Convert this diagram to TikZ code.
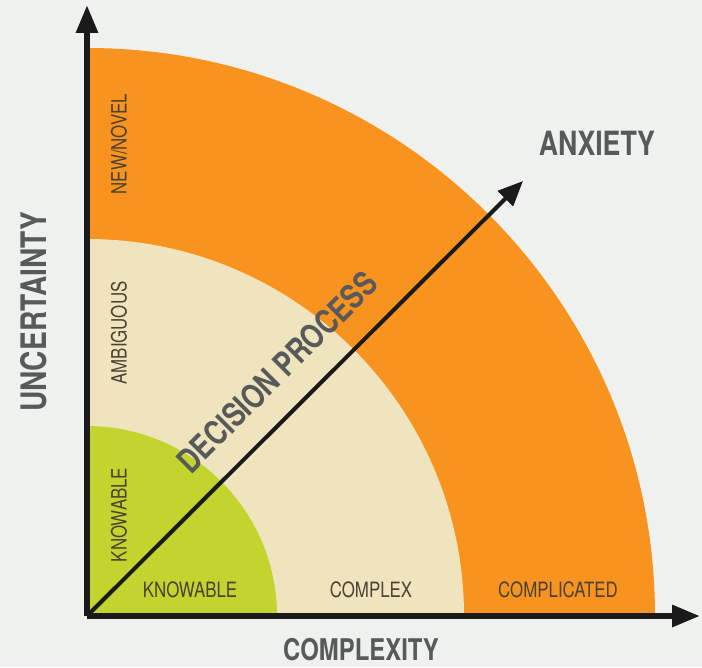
\documentclass[tikz,border=0pt]{standalone}
\usepackage{fontspec}
\setmainfont{TeX Gyre Heros}[FakeStretch=0.8]
\usetikzlibrary{arrows.meta}
\definecolor{bgcol}{HTML}{EFF1EE}
\definecolor{orangecol}{HTML}{F7931E}
\definecolor{beigecol}{HTML}{EFE4BD}
\definecolor{greencol}{HTML}{C2D52F}
\definecolor{axiscol}{HTML}{1A1A1A}
\definecolor{titlecol}{HTML}{58595B}
\definecolor{lblcol}{HTML}{4A4234}

\begin{document}
\begin{tikzpicture}[x=0.02cm,y=0.02cm,
    axis/.style={line width=0.12cm,draw=axiscol,-{Triangle[length=0.56cm,width=0.42cm]}},
    diag/.style={line width=0.08cm,draw=axiscol,-{Triangle[length=0.5cm,width=0.42cm]}},
    zonelbl/.style={text=lblcol,font=\fontsize{12}{14}\selectfont,inner sep=0pt},
    titlelbl/.style={text=titlecol,font=\bfseries\fontsize{19}{22}\selectfont,inner sep=0pt}]
        % Fond
            \fill[bgcol] (0,0) rectangle (702,667);
            \useasboundingbox (0,0) rectangle (702,667);
        % Points
            \coordinate (O) at (87,51);      % origine
            \coordinate (ytip) at (87,662);  % haut
            \coordinate (xtip) at (700,51);  % droite
            \coordinate (dtip) at (523,486); % diagonale
        % Zones
            \fill[orangecol] (O) -- ++(568,0) arc[start angle=0,end angle=90,radius=568] -- cycle;
            \fill[beigecol] (O) -- ++(377,0) arc[start angle=0,end angle=90,radius=377] -- cycle;
            \fill[greencol] (O) -- ++(190,0) arc[start angle=0,end angle=90,radius=190] -- cycle;
        % Axes
            \draw[axis] (O) -- (ytip); % |
            \draw[axis] (O) -- (xtip); % _
            \draw[diag] (O) -- (dtip); % /
        % Titres
            \node[titlelbl,rotate=90,font=\bfseries\fontsize{20}{24}\selectfont] (uncert) at (34,355) {UNCERTAINTY};
            \node[titlelbl,font=\bfseries\fontsize{17}{20}\selectfont] (complexity) at (361,17) {COMPLEXITY};
            \node[titlelbl] (anxiety) at (597,524) {ANXIETY};
            \node[titlelbl,rotate=45] (decision) at (277,295) {DECISION PROCESS};
        % Zones verticales
            \node[zonelbl,rotate=90] (newnovel) at (119,523) {NEW/NOVEL};
            \node[zonelbl,rotate=90] (ambiguous) at (119,334) {AMBIGUOUS};
            \node[zonelbl,rotate=90] (knowv) at (119,152) {KNOWABLE};
        % Zones horizontales
            \node[zonelbl] (knowh) at (190,77) {KNOWABLE};
            \node[zonelbl] (complex) at (371,77) {COMPLEX};
            \node[zonelbl] (complicated) at (558,77) {COMPLICATED};
\end{tikzpicture}
\end{document}
